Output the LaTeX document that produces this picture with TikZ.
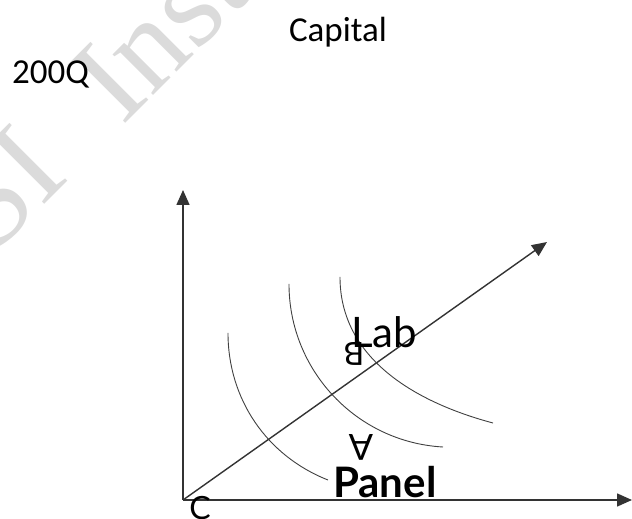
\documentclass[tikz,border=0pt]{standalone}
\usepackage{fontspec}
\setmainfont{Carlito}
\newfontfamily\lato{Lato}
\newfontfamily\wmfont{Liberation Serif}
\usetikzlibrary{arrows.meta}
\begin{document}
\begin{tikzpicture}[x=1pt,y=1pt,
  axis/.style={draw=black!80, line width=1.6pt, -{Triangle[length=15pt,width=13pt]}},
  iso/.style={draw=black!75, line width=0.9pt},
  lbl/.style={inner sep=0pt, font=\fontsize{35}{40}\selectfont},
  gill/.style={inner sep=0pt, font=\lato\fontsize{#1}{#1}\selectfont},
  wm/.style={inner sep=0pt, text=black!14, font=\wmfont\fontsize{125}{125}\selectfont}]
\useasboundingbox (0,0) rectangle (632,519);
% watermark
\node[wm, rotate=45, anchor=base west] (wm) at (-8,262) {SI\hspace{42pt} Inst};
% axes
\coordinate (O) at (183,19);
\coordinate (ytip) at (183,329);
\coordinate (xtip) at (632,19);
\coordinate (dtip) at (547,277);
\draw[axis] (O) -- (ytip);
\draw[axis] (O) -- (xtip);
\draw[axis, line width=1.4pt] (O) -- (dtip);
% isoquants
\draw[iso] (228,186) .. controls (228,120) and (266.6,63.2) .. (328,39);
\draw[iso] (289,235) .. controls (289,148.5) and (356.6,76.8) .. (443,72);
\draw[iso] (340,242) .. controls (340,159) and (418,116) .. (493,96);
% labels
\node[lbl, anchor=base] (capital) at (338,477) {Capital};
\node[lbl, anchor=base west] (q) at (12,435) {200Q};
\node[gill=42, anchor=base west] (lab) at (351,171) {Lab};
\node[gill=32, rotate=180] (b) at (354,165) {B};
\node[gill=36, rotate=180] (a) at (361,72) {A};
\node[inner sep=0pt, anchor=base west, font=\lato\bfseries\fontsize{42}{42}\selectfont] (panel) at (333,21) {Panel};
\node[gill=32] (c) at (200,11) {C};
\end{tikzpicture}
\end{document}
